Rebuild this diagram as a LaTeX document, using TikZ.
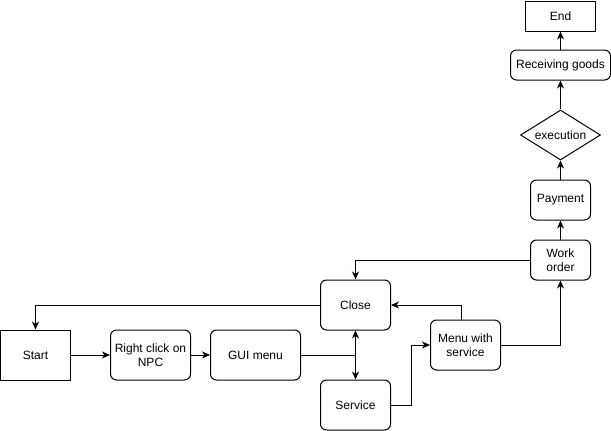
\documentclass[tikz,border=0pt]{standalone}
\usepackage{fontspec}
\setmainfont{Liberation Sans}
\usetikzlibrary{arrows.meta,shapes.geometric}
\begin{document}
\begin{tikzpicture}[x=1pt,y=-1pt,
  every node/.style={font=\fontsize{12}{14}\selectfont, align=center, inner sep=0pt, line width=1pt},
  sq/.style={draw, rectangle},
  rbox/.style={draw, rectangle, rounded corners=6pt},
  conn/.style={draw, line width=1pt, -{Stealth[length=8pt,width=7pt,inset=2.5pt]}}
]
\useasboundingbox (0,0) rectangle (611,431);
\node[sq, minimum width=70pt, minimum height=50pt] (start) at (35.5,355) {Start};
\node[rbox, minimum width=80pt, minimum height=50pt] (npc) at (150.5,355) {Right click on\\NPC};
\node[rbox, minimum width=90pt, minimum height=50pt] (gui) at (255.5,355) {GUI menu};
\node[rbox, minimum width=70pt, minimum height=50pt] (close) at (355.5,305) {Close};
\node[rbox, minimum width=70pt, minimum height=50pt] (service) at (355.5,405) {Service};
\node[rbox, minimum width=70pt, minimum height=50pt] (menu) at (465.5,345) {Menu with\\service};
\node[rbox, minimum width=60pt, minimum height=40pt] (work) at (560.5,260) {Work\\order};
\node[rbox, minimum width=60pt, minimum height=40pt] (pay) at (560.5,200) {Payment};
\node[draw, diamond, minimum width=80pt, minimum height=50pt, inner sep=0pt, shape aspect=1.6] (exec) at (560.5,135) {execution};
\node[rbox, minimum width=100pt, minimum height=30pt] (recv) at (560.5,65) {Receiving goods};
\node[sq, minimum width=70pt, minimum height=30pt] (end) at (560.5,16) {End};

\draw[conn] (start) -- (npc);
\draw[conn] (npc) -- (gui);
\draw[conn] (gui.east) -| (close.south);
\draw[conn] (gui.east) -| (service.north);
\draw[conn] (close.west) -| (start.north);
\draw[conn] (service.east) -- ++(20,0) |- (menu.west);
\draw[conn] ([xshift=-4.5pt]menu.north) |- (close.east);
\draw[conn] (menu.east) -| (work.south);
\draw[conn] (work.west) -| (close.north);
\draw[conn] (work) -- (pay);
\draw[conn] (pay) -- (exec);
\draw[conn] (exec) -- (recv);
\draw[conn] (recv) -- (end);
\end{tikzpicture}
\end{document}
